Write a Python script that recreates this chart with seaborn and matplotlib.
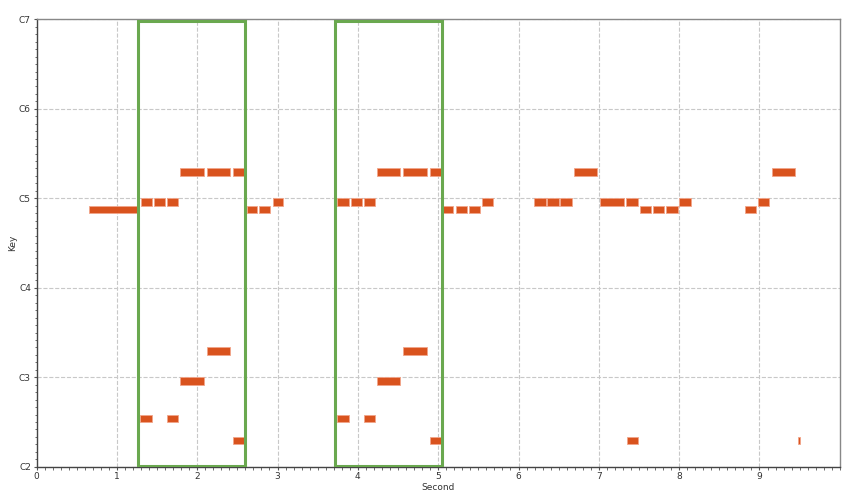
import matplotlib
matplotlib.use("Agg")
import matplotlib.pyplot as plt
import matplotlib.patches as patches
from matplotlib.ticker import MultipleLocator
import seaborn as sns

# note events: start (s), end (s), MIDI pitch
melody_start = [0.65, 1.295, 1.465, 1.62, 1.785, 2.12, 2.445, 2.615, 2.77, 2.94,
                3.745, 3.915, 4.075, 4.235, 4.565, 4.90, 5.065, 5.22, 5.385, 5.54,
                6.195, 6.36, 6.52, 6.69, 7.02, 7.34, 7.515, 7.675, 7.84, 8.00,
                8.82, 8.98, 9.15]
melody_end = [1.26, 1.436, 1.60, 1.76, 2.08, 2.41, 2.59, 2.74, 2.905, 3.07,
              3.89, 4.05, 4.21, 4.53, 4.86, 5.04, 5.19, 5.355, 5.52, 5.685,
              6.34, 6.50, 6.66, 6.98, 7.315, 7.485, 7.65, 7.81, 7.98, 8.145,
              8.955, 9.12, 9.445]
melody_pitch = [71, 72, 72, 72, 76, 76, 76, 71, 71, 72,
                72, 72, 72, 76, 76, 76, 71, 71, 71, 72,
                72, 72, 72, 76, 72, 72, 71, 71, 71, 72,
                71, 72, 76]

bass_start = [1.29, 1.62, 1.785, 2.12, 2.45, 3.745, 4.075, 4.235, 4.565, 4.90, 7.35, 9.48]
bass_end = [1.44, 1.76, 2.08, 2.41, 2.59, 3.89, 4.21, 4.53, 4.86, 5.04, 7.49, 9.51]
bass_pitch = [43, 43, 48, 52, 40, 43, 43, 48, 52, 40, 40, 40]

# highlighted segments (s)
seg_start = [1.265, 3.72]
seg_end = [2.60, 5.05]

key_ticks = [36, 48, 60, 72, 84, 96]
key_labels = ["C2", "C3", "C4", "C5", "C6", "C7"]

sns.set_style("white")
plt.rcParams["font.family"] = ["DejaVu Sans"]

fig = plt.figure(figsize=(8.5, 4.95), dpi=100)
ax = fig.add_axes([0.043, 0.057, 0.945, 0.904])

starts = melody_start + bass_start
ends = melody_end + bass_end
pitches = melody_pitch + bass_pitch
ax.barh([p - 0.5 for p in pitches], [e - s for s, e in zip(starts, ends)],
        left=starts, height=1.0, color="#d9531e", edgecolor="#f2a58a",
        linewidth=0.6, zorder=3)

for s, e in zip(seg_start, seg_end):
    ax.add_patch(patches.Rectangle((s, 36.1), e - s, 59.7, fill=False,
                                   edgecolor="#6aa84f", linewidth=2.2, zorder=4))

ax.set_xlim(0, 10)
ax.set_ylim(36, 96)
ax.set_xticks(range(10))
ax.set_yticks(key_ticks)
ax.set_yticklabels(key_labels)
ax.xaxis.set_minor_locator(MultipleLocator(0.1))
ax.yaxis.set_minor_locator(MultipleLocator(1))
ax.tick_params(which="both", bottom=True, left=True, direction="out")
ax.tick_params(which="major", length=2.5, width=0.8, pad=1.5, labelsize=6.5,
               color="#555555", labelcolor="#333333")
ax.tick_params(which="minor", length=1.8, width=0.6, color="#555555")
ax.grid(True, which="major", linestyle="--", color="#c8c8c8", linewidth=0.8, zorder=0)

for side in ["left", "bottom"]:
    ax.spines[side].set_color("#444444")
    ax.spines[side].set_linewidth(1.0)
for side in ["top", "right"]:
    ax.spines[side].set_color("#888888")
    ax.spines[side].set_linewidth(1.0)

ax.set_xlabel("Second", fontsize=6.5, labelpad=1, color="#333333")
ax.set_ylabel("Key", fontsize=6.5, labelpad=1, color="#333333")

fig.savefig("out.png", dpi=100)
plt.close(fig)
